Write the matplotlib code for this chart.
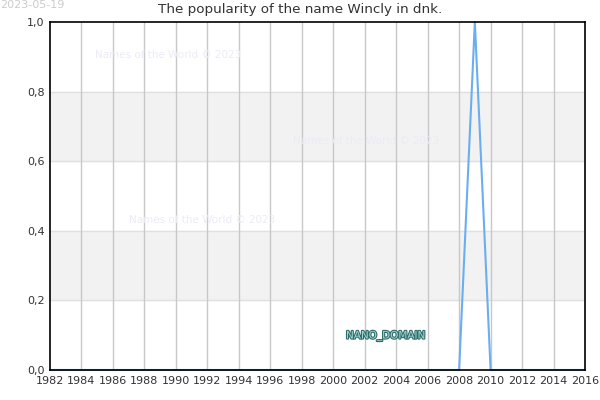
import matplotlib
matplotlib.use("Agg")
import matplotlib.pyplot as plt
import matplotlib.patheffects as pe

years = list(range(1982, 2017))
popularity = [0.0] * len(years)
popularity[years.index(2009)] = 1.0

xticks = list(range(1982, 2017, 2))
yticks = [0.0, 0.2, 0.4, 0.6, 0.8, 1.0]
ytick_labels = ["0,0", "0,2", "0,4", "0,6", "0,8", "1,0"]
bands = [(0.2, 0.4), (0.6, 0.8)]

fig = plt.figure(figsize=(6, 4), dpi=100)
ax = fig.add_axes([50 / 600, 30 / 400, 535 / 600, 348 / 400])

for lo, hi in bands:
    ax.axhspan(lo, hi, color="#f2f2f2", zorder=0)
for y in yticks[1:-1]:
    ax.axhline(y, color="#e0e0e0", lw=1, zorder=1)
for x in xticks[1:-1]:
    ax.axvline(x, color="#c8c8c8", lw=1, zorder=1)

ax.plot(years, popularity, color="#6aaef0", lw=1.5, zorder=2, clip_on=False)

ax.set_xlim(1982, 2016)
ax.set_ylim(0, 1)
ax.set_xticks(xticks)
ax.set_yticks(yticks)
ax.set_yticklabels(ytick_labels)
ax.tick_params(length=0, labelsize=8, colors="#333333", pad=4)
for s in ax.spines.values():
    s.set_color("black")
    s.set_linewidth(1.2)
    s.set_zorder(2.5)

fig.text(0.5, 1 - 10 / 400, "The popularity of the name Wincly in dnk.",
         ha="center", va="center", fontsize=9.7, color="#333333")

fig.text(0.0, 1.0, "2023-05-19", ha="left", va="top", fontsize=8, color="#cccccc")

wm = "Names of the World © 2023"
for px, py in [(95, 55), (293, 141), (129, 220)]:
    fig.text(px / 600, 1 - py / 400, wm, ha="left", va="center", fontsize=7.5,
             color="#ebebf7")

fig.text(346 / 600, 1 - 336 / 400, "NANO_DOMAIN", ha="left", va="center",
         fontsize=7.5, color="#a6d8d4", zorder=5,
         path_effects=[pe.withStroke(linewidth=1.6, foreground="#2e6b6b")])

fig.savefig("out.png", dpi=100)
